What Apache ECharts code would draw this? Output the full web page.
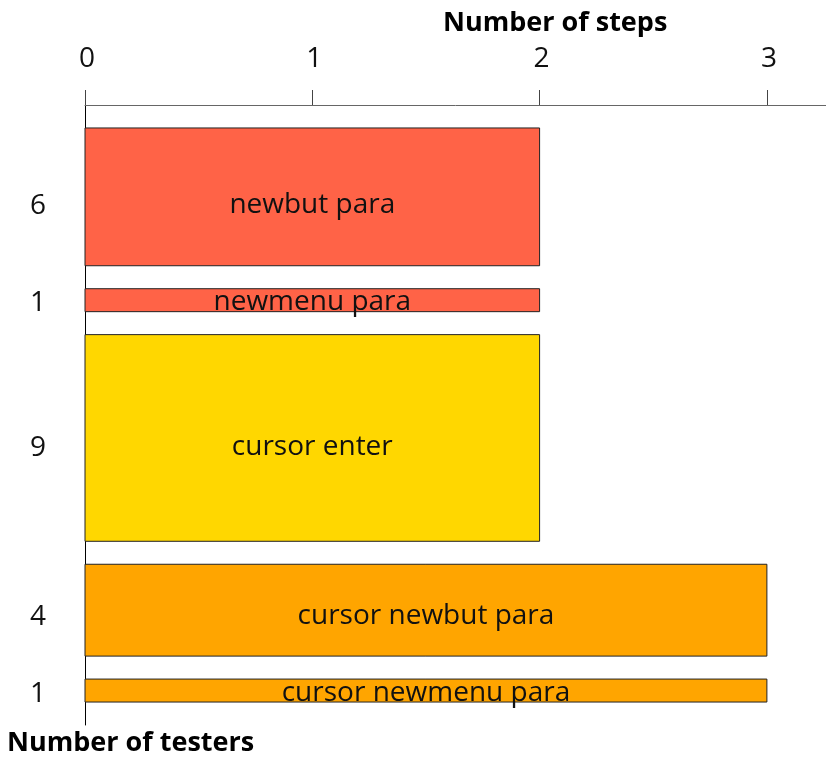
<!DOCTYPE html>
<html>
<head>
<meta charset="utf-8">
<script src="https://cdn.jsdelivr.net/npm/echarts@6/dist/echarts.min.js"></script>
<style>
  html, body { margin: 0; padding: 0; background: #fff; }
  #chart { width: 826px; height: 758px; }
</style>
</head>
<body>
<div id="chart"></div>
<script>
// one bar per click path: height = number of testers, length = number of steps
const labels = ["newbut para", "newmenu para", "cursor enter", "cursor newbut para", "cursor newmenu para"];
const testers = [6, 1, 9, 4, 1];
const steps = [2, 2, 2, 3, 3];
const colors = ["#FF6347", "#FF6347", "#FFD700", "#FFA500", "#FFA500"];
const stepTicks = [0, 1, 2, 3];
const gap = 1;

const font = "Open Sans";

// stack the bars along y with a gap before each one
let pos = 0;
const barData = labels.map((name, i) => {
  const start = pos + gap;
  const end = start + testers[i];
  pos = end;
  return { value: [start, end, steps[i], testers[i]], name: name, itemStyle: { color: colors[i] } };
});
const yMax = pos + gap;

const chart = echarts.init(document.getElementById("chart"));
chart.setOption({
  animation: false,
  grid: { left: 85, right: 0, top: 105, bottom: 33 },
  xAxis: {
    type: "value",
    position: "top",
    min: 0,
    max: 3.26,
    interval: 1,
    axisLine: { show: true, lineStyle: { color: "#666", width: 1 } },
    axisTick: { show: true, length: 15, customValues: stepTicks, lineStyle: { color: "#444" } },
    axisLabel: {
      margin: 32,
      padding: [0, 0, 0, 4],
      fontFamily: font,
      fontSize: 28,
      color: "#111",
      customValues: stepTicks
    },
    splitLine: { show: false }
  },
  yAxis: {
    type: "value",
    inverse: true,
    min: 0,
    max: yMax,
    axisLine: { show: true, lineStyle: { color: "#000", width: 1 } },
    axisTick: { show: false },
    axisLabel: { show: false },
    splitLine: { show: false }
  },
  graphic: [
    {
      type: "text",
      left: 443,
      top: 10,
      style: { text: "Number of steps", fontFamily: font, fontSize: 27, fontWeight: "bold", fill: "#000" }
    },
    {
      type: "text",
      left: 7,
      top: 730,
      style: { text: "Number of testers", fontFamily: font, fontSize: 27, fontWeight: "bold", fill: "#000" }
    }
  ],
  series: [
    {
      type: "custom",
      data: barData,
      renderItem: (params, api) => {
        const start = api.value(0);
        const end = api.value(1);
        const len = api.value(2);
        const p0 = api.coord([0, start]);
        const p1 = api.coord([len, end]);
        const h = p1[1] - p0[1];
        // labels sit a little below the middle of the tall bars
        const midY = (p0[1] + p1[1]) / 2 + Math.min(9, 1 + h * 0.05);
        const item = barData[params.dataIndex];
        return {
          type: "group",
          children: [
            {
              type: "rect",
              shape: { x: p0[0], y: p0[1], width: p1[0] - p0[0], height: h },
              style: { fill: item.itemStyle.color, stroke: "#222", lineWidth: 1 }
            },
            {
              type: "text",
              x: (p0[0] + p1[0]) / 2,
              y: midY,
              style: {
                text: item.name, fontFamily: font, fontSize: 28, fill: "#111",
                align: "center", verticalAlign: "middle"
              }
            },
            {
              type: "text",
              x: 38,
              y: midY + 1,
              style: {
                text: String(api.value(3)), fontFamily: font, fontSize: 28, fill: "#111",
                align: "center", verticalAlign: "middle"
              }
            }
          ]
        };
      }
    }
  ]
});
</script>
</body>
</html>
